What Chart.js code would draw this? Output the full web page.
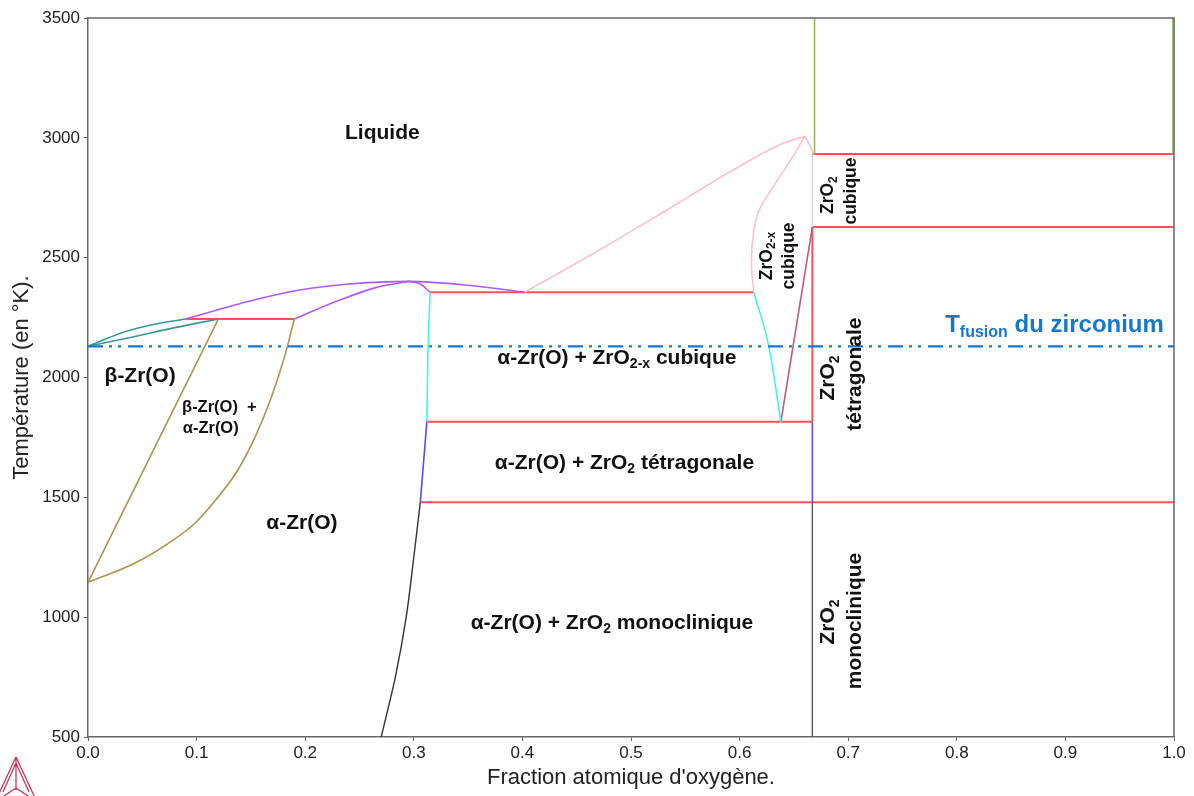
<!DOCTYPE html>
<html>
<head>
<meta charset="utf-8">
<script src="https://cdn.jsdelivr.net/npm/chart.js@4.4.0/dist/chart.umd.min.js"></script>
<style>
  html, body { margin: 0; padding: 0; background: #fff; }
  #c { display: block; }
</style>
</head>
<body>
<canvas id="c" width="1194" height="796"></canvas>
<script>
// axis ranges / ticks
const xRange = [0, 1];
const yRange = [500, 3500];
const xStep = 0.1;
const yStep = 500;

// phase boundaries, [fraction O, T in K]
const tFusion = [[0, 2130], [1, 2130]];
const betaLiqUpper = [[0, 2130], [0.03, 2185], [0.06, 2221], [0.09, 2244]];
const betaLiqLower = [[0, 2130], [0.04, 2168], [0.08, 2208], [0.12, 2244]];
const peritectic = [[0.09, 2244], [0.19, 2244]];
const liquidusAlpha = [[0.09, 2244], [0.15, 2320], [0.195, 2365], [0.24, 2390], [0.295, 2401], [0.35, 2385], [0.402, 2356]];
const solidusAlphaLeft = [[0.19, 2244], [0.23, 2320], [0.265, 2375], [0.295, 2401]];
const solidusAlphaRight = [[0.295, 2401], [0.306, 2390], [0.315, 2356]];
const betaTransus = [[0, 1145], [0.06, 1695], [0.12, 2244]];
const alphaTransus = [[0, 1145], [0.043, 1225], [0.074, 1308], [0.0985, 1392], [0.12, 1502], [0.138, 1614],
  [0.154, 1753], [0.169, 1920], [0.181, 2087], [0.19, 2244]];
const solvusHigh = [[0.315, 2356], [0.313, 2100], [0.312, 1815]];
const solvusMid = [[0.312, 1815], [0.306, 1480]];
const solvusLow = [[0.306, 1480], [0.300, 1250], [0.293, 1000], [0.283, 750], [0.270, 500]];
const eutectic = [[0.315, 2356], [0.613, 2356]];
const cubicEutectoid = [[0.312, 1815], [0.667, 1815]];
const tetraMono = [[0.306, 1480], [1, 1480]];
const cubicTetra = [[0.667, 2628], [1, 2628]];
const liquidCubic = [[0.667, 2933], [1, 2933]];
const liquidusZrO2 = [[0.402, 2356], [0.471, 2532], [0.533, 2699], [0.594, 2866], [0.640, 2977], [0.660, 3007]];
const liquidusZrO2Drop = [[0.660, 3007], [0.664, 2975], [0.668, 2935]];
const solidusZrO2 = [[0.613, 2356], [0.611, 2462], [0.612, 2573], [0.617, 2686], [0.631, 2796], [0.649, 2921], [0.660, 3007]];
const cubicLeft = [[0.613, 2356], [0.627, 2128], [0.638, 1815]];
const cubicRight = [[0.638, 1815], [0.667, 2628]];
const zro2Tetra = [[0.667, 1815], [0.667, 2628]];
const zro2TetraLow = [[0.667, 1480], [0.667, 1815]];
const zro2Mono = [[0.667, 500], [0.667, 1480]];
const zro2Cubic = [[0.667, 2628], [0.667, 2933]];
const zro2Liquid = [[0.669, 2933], [0.669, 3500]];
const edgeLiquid = [[0.999, 2933], [0.999, 3500]];

// region labels: position (data), font size, rotation, text parts [text, subscript?]
const regionLabels = [
  { x: 0.271, y: 3020, size: 21, rot: 0, parts: [['Liquide']] },
  { x: 0.048, y: 2006, size: 21, rot: 0, parts: [['β-Zr(O)']] },
  { x: 0.121, y: 1877, size: 16.5, rot: 0, parts: [['β-Zr(O)  +']] },
  { x: 0.113, y: 1789, size: 16.5, rot: 0, parts: [['α-Zr(O)']] },
  { x: 0.197, y: 1393, size: 21, rot: 0, parts: [['α-Zr(O)']] },
  { x: 0.487, y: 2081, size: 21, rot: 0, parts: [['α-Zr(O) + ZrO'], ['2-x', true], [' cubique']] },
  { x: 0.494, y: 1643, size: 21, rot: 0, parts: [['α-Zr(O) + ZrO'], ['2', true], [' tétragonale']] },
  { x: 0.4825, y: 976, size: 21, rot: 0, parts: [['α-Zr(O) + ZrO'], ['2', true], [' monoclinique']] },
  { x: 0.625, y: 2507, size: 17.5, rot: -90, parts: [['ZrO'], ['2-x', true]] },
  { x: 0.6455, y: 2507, size: 17.5, rot: -90, parts: [['cubique']] },
  { x: 0.682, y: 2761, size: 17.5, rot: -90, parts: [['ZrO'], ['2', true]] },
  { x: 0.703, y: 2778, size: 17.5, rot: -90, parts: [['cubique']] },
  { x: 0.682, y: 1998, size: 21, rot: -90, parts: [['ZrO'], ['2', true]] },
  { x: 0.706, y: 2014, size: 21, rot: -90, parts: [['tétragonale']] },
  { x: 0.682, y: 980, size: 21, rot: -90, parts: [['ZrO'], ['2', true]] },
  { x: 0.706, y: 984, size: 21, rot: -90, parts: [['monoclinique']] }
];
const fusionLabel = { x: 0.890, y: 2219, size: 24, parts: [['T'], ['fusion', true], [' du zirconium']] };

const FONT = '"Liberation Sans", Arial, sans-serif';

function toPts(arr) {
  return arr.map(p => ({ x: p[0], y: p[1] }));
}

// tension: number for bezier, 'mono' for monotone cubic (x increasing)
function line(data, color, width, tension, dash) {
  const ds = {
    data: toPts(data),
    showLine: true,
    borderColor: color,
    borderWidth: width,
    pointRadius: 0,
    borderDash: dash || [],
    fill: false
  };
  if (tension === 'mono') {
    ds.cubicInterpolationMode = 'monotone';
  } else {
    ds.tension = tension || 0;
  }
  return ds;
}

const red = 'rgb(255,80,85)';
const purple = 'rgb(175,90,245)';
const teal = 'rgb(60,150,150)';
const olive = 'rgb(170,150,75)';
const cyan = 'rgb(70,240,240)';
const blue = 'rgb(80,80,255)';
const pink = 'rgb(255,192,204)';
const maroon = 'rgb(190,90,125)';
const green = 'rgb(150,185,95)';
const fusionBlue = 'rgb(20,120,205)';

function drawParts(ctx, parts, size, cx, cy, rot, color) {
  const sub = Math.round(size * 0.68);
  let total = 0;
  const widths = parts.map(p => {
    ctx.font = 'bold ' + (p[1] ? sub : size) + 'px ' + FONT;
    const w = ctx.measureText(p[0]).width;
    total += w;
    return w;
  });
  ctx.save();
  ctx.translate(cx, cy);
  ctx.rotate(rot * Math.PI / 180);
  ctx.fillStyle = color;
  ctx.textBaseline = 'middle';
  ctx.textAlign = 'left';
  let x = -total / 2;
  parts.forEach((p, i) => {
    ctx.font = 'bold ' + (p[1] ? sub : size) + 'px ' + FONT;
    ctx.fillText(p[0], x, p[1] ? size * 0.3 : 0);
    x += widths[i];
  });
  ctx.restore();
}

const labelsPlugin = {
  id: 'regionLabels',
  afterDatasetsDraw(chart) {
    const { ctx, chartArea, scales } = chart;
    // frame top / right
    ctx.save();
    ctx.strokeStyle = '#666';
    ctx.lineWidth = 1.5;
    ctx.beginPath();
    ctx.moveTo(chartArea.left, chartArea.top);
    ctx.lineTo(chartArea.right, chartArea.top);
    ctx.lineTo(chartArea.right, chartArea.bottom);
    ctx.stroke();
    ctx.restore();

    regionLabels.forEach(l => {
      drawParts(ctx, l.parts, l.size, scales.x.getPixelForValue(l.x), scales.y.getPixelForValue(l.y), l.rot, '#111');
    });
    drawParts(ctx, fusionLabel.parts, fusionLabel.size,
      scales.x.getPixelForValue(fusionLabel.x), scales.y.getPixelForValue(fusionLabel.y), 0, fusionBlue);

    // small logo bottom-left
    ctx.save();
    ctx.strokeStyle = 'rgb(200,40,80)';
    ctx.lineWidth = 1.2;
    ctx.beginPath();
    ctx.moveTo(16, 757); ctx.lineTo(-4, 800);
    ctx.moveTo(16, 757); ctx.lineTo(36, 800);
    ctx.moveTo(16, 757); ctx.lineTo(16, 790);
    ctx.moveTo(16, 763); ctx.lineTo(3, 792);
    ctx.moveTo(16, 763); ctx.lineTo(29, 792);
    ctx.moveTo(4, 796); ctx.lineTo(16, 788); ctx.lineTo(28, 796);
    ctx.stroke();
    ctx.restore();
  }
};

new Chart(document.getElementById('c'), {
  type: 'scatter',
  data: {
    datasets: [
      line(tFusion, fusionBlue, 2.2, 0, [15, 6, 3, 6, 3, 7]),
      line(betaLiqUpper, teal, 1.6, 'mono'),
      line(betaLiqLower, teal, 1.6, 'mono'),
      line(betaTransus, olive, 1.6, 0),
      line(alphaTransus, olive, 1.6, 'mono'),
      line(liquidusAlpha, purple, 1.6, 'mono'),
      line(solidusAlphaLeft, purple, 1.6, 'mono'),
      line(solidusAlphaRight, purple, 1.6, 'mono'),
      line(solvusHigh, cyan, 1.6, 0.2),
      line(solvusMid, blue, 1.6, 0),
      line(solvusLow, '#333', 1.4, 0.3),
      line(liquidusZrO2, pink, 1.6, 'mono'),
      line(liquidusZrO2Drop, pink, 1.6, 0.3),
      line(solidusZrO2, pink, 1.6, 0.4),
      line(cubicLeft, cyan, 1.6, 'mono'),
      line(cubicRight, maroon, 1.6, 0),
      line(zro2Cubic, '#d8d8d8', 1.6, 0),
      line(zro2Liquid, green, 1.6, 0),
      line(edgeLiquid, green, 1.6, 0),
      line(zro2Mono, '#555', 1.4, 0),
      line(zro2TetraLow, blue, 1.6, 0),
      line(peritectic, red, 2, 0),
      line(eutectic, red, 2, 0),
      line(cubicEutectoid, red, 2, 0),
      line(tetraMono, red, 2, 0),
      line(cubicTetra, red, 2, 0),
      line(liquidCubic, red, 2, 0),
      line(zro2Tetra, red, 2, 0)
    ]
  },
  options: {
    responsive: false,
    animation: false,
    layout: { padding: { top: 18, right: 20, left: 0, bottom: 0 } },
    plugins: {
      legend: { display: false },
      tooltip: { enabled: false }
    },
    scales: {
      x: {
        type: 'linear',
        min: xRange[0],
        max: xRange[1],
        afterFit: s => { s.height = 59; },
        ticks: {
          stepSize: xStep,
          color: '#222',
          padding: 2,
          font: { family: FONT, size: 17 },
          callback: v => v.toFixed(1)
        },
        grid: { drawOnChartArea: false, drawTicks: true, tickLength: 4, color: '#666' },
        border: { display: true, color: '#666', width: 1.5 },
        title: {
          display: true,
          text: "Fraction atomique d'oxygène.",
          color: '#222',
          font: { family: FONT, size: 22 },
          padding: { top: 0, bottom: 5 }
        }
      },
      y: {
        type: 'linear',
        min: yRange[0],
        max: yRange[1],
        afterFit: s => { s.width = 88; },
        ticks: {
          stepSize: yStep,
          color: '#222',
          padding: 4,
          font: { family: FONT, size: 17 },
          callback: v => String(v)
        },
        grid: { drawOnChartArea: false, drawTicks: true, tickLength: 4, color: '#666' },
        border: { display: true, color: '#666', width: 1.5 },
        title: {
          display: true,
          text: 'Température (en °K).',
          color: '#222',
          font: { family: FONT, size: 22 },
          padding: { top: 9, bottom: 0 }
        }
      }
    }
  },
  plugins: [labelsPlugin]
});
</script>
</body>
</html>
